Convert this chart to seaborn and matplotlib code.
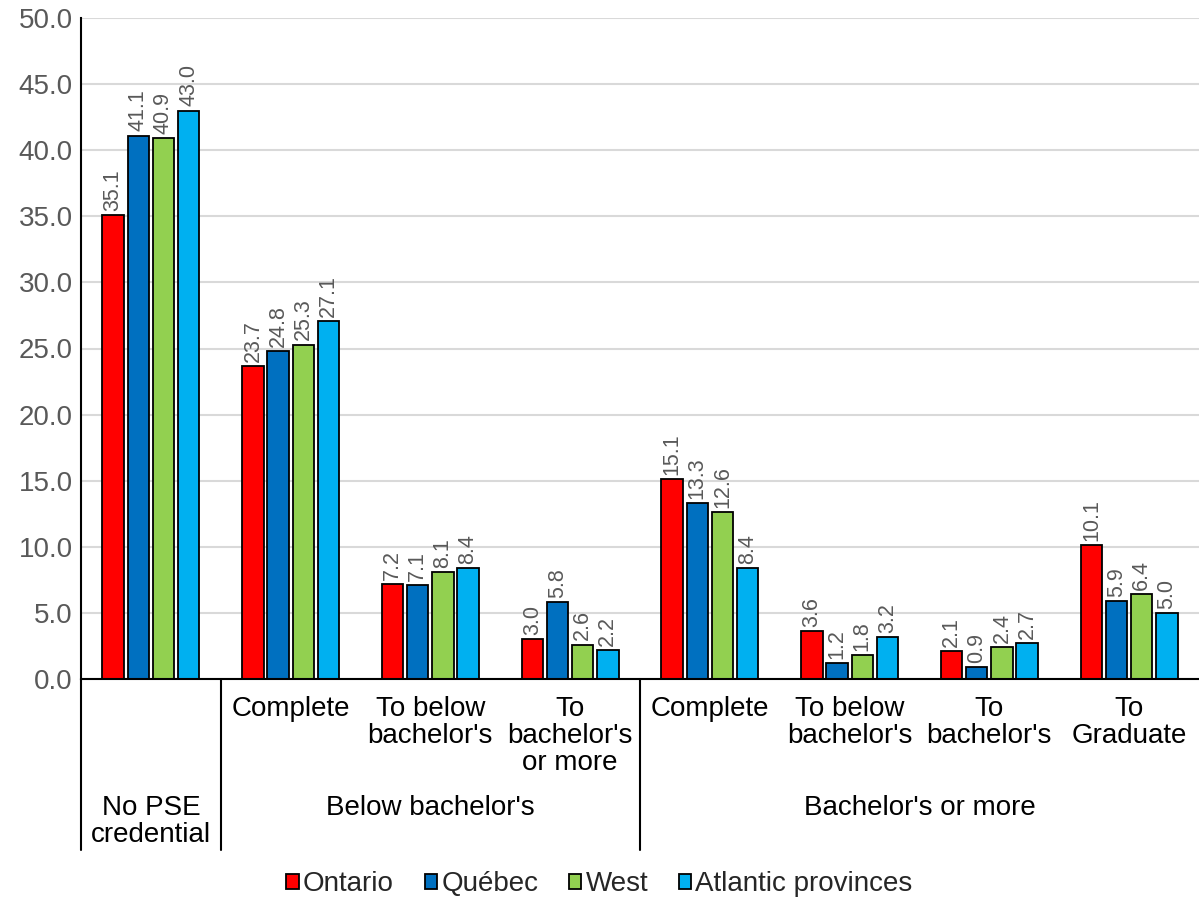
import matplotlib
matplotlib.use("Agg")
import matplotlib.pyplot as plt
import matplotlib.transforms as mtransforms
import seaborn as sns
import pandas as pd

categories = ["No PSE", "Below - Complete", "Below - To below bachelor's", "Below - To bachelor's or more",
              "Bach - Complete", "Bach - To below bachelor's", "Bach - To bachelor's", "Bach - To Graduate"]
tick_labels = ["", "Complete", "To below\nbachelor's", "To\nbachelor's\nor more",
               "Complete", "To below\nbachelor's", "To\nbachelor's", "To\nGraduate"]
groups = ["No PSE\ncredential", "Below bachelor's", "Bachelor's or more"]
group_spans = [(0, 0), (1, 3), (4, 7)]
regions = ["Ontario", "Québec", "West", "Atlantic provinces"]
ontario = [35.1, 23.7, 7.2, 3.0, 15.1, 3.6, 2.1, 10.1]
quebec = [41.1, 24.8, 7.1, 5.8, 13.3, 1.2, 0.9, 5.9]
west = [40.9, 25.3, 8.1, 2.6, 12.6, 1.8, 2.4, 6.4]
atlantic = [43.0, 27.1, 8.4, 2.2, 8.4, 3.2, 2.7, 5.0]
colors = ["#FF0000", "#0070C0", "#92D050", "#00B0F0"]

rows = []
for reg, vals in zip(regions, [ontario, quebec, west, atlantic]):
    for c, v in zip(categories, vals):
        rows.append({"category": c, "region": reg, "value": v})
df = pd.DataFrame(rows)

sns.set_theme(style="white")
plt.rcParams["font.family"] = ["Liberation Sans", "DejaVu Sans"]

W, H = 1199, 902
fig = plt.figure(figsize=(W / 100, H / 100), dpi=100)
left, right, top, bottom = 81, 1199, 18, 679
ax = fig.add_axes([left / W, 1 - bottom / H, (right - left) / W, (bottom - top) / H])

sns.barplot(data=df, x="category", y="value", hue="region", order=categories,
            hue_order=regions, palette=colors, saturation=1, width=0.72, gap=0.15,
            edgecolor="black", linewidth=1.3, ax=ax, legend=True)

ax.set_ylim(0, 50)
ax.set_xlim(-0.5, len(categories) - 0.5)
ax.set_yticks([0, 5, 10, 15, 20, 25, 30, 35, 40, 45, 50])
ax.set_yticklabels([f"{v:.1f}" for v in ax.get_yticks()], fontsize=20, color="#595959")
ax.yaxis.grid(True, color="#D9D9D9", linewidth=1.5)
ax.set_axisbelow(True)
ax.tick_params(axis="both", length=0, pad=6)
ax.set_xlabel("")
ax.set_ylabel("")
for s in ["top", "right"]:
    ax.spines[s].set_visible(False)
ax.spines["left"].set_color("black")
ax.spines["bottom"].set_color("black")
ax.spines["left"].set_linewidth(1.5)
ax.spines["bottom"].set_linewidth(1.5)

for cont in ax.containers:
    ax.bar_label(cont, fmt="%.1f", rotation=90, padding=3, fontsize=15.5, color="#595959")

ax.set_xticks(range(len(categories)))
ax.set_xticklabels(tick_labels, fontsize=20, color="black", linespacing=1.05, va="top")
ax.tick_params(axis="x", pad=12)

trans = mtransforms.blended_transform_factory(ax.transData, ax.transAxes)
line_bottom = -(850 - bottom) / (bottom - top)
for xb in [-0.5, 0.5, 3.5]:
    ax.plot([xb, xb], [0, line_bottom], color="black", linewidth=1.5,
            transform=trans, clip_on=False)

group_y = -(795 - bottom) / (bottom - top)
for g, (a, b) in zip(groups, group_spans):
    ax.text((a + b) / 2, group_y, g, transform=trans, ha="center", va="top",
            fontsize=20, color="black", linespacing=1.05)

handles, labels = ax.get_legend_handles_labels()
if ax.legend_:
    ax.legend_.remove()
fig.legend(handles, labels, loc="center", bbox_to_anchor=(0.5, 1 - 884 / H), ncol=4,
           frameon=False, fontsize=20, handlelength=0.45, handleheight=0.45,
           handletextpad=0.15, columnspacing=1.1)

fig.savefig("out.png", dpi=100)
